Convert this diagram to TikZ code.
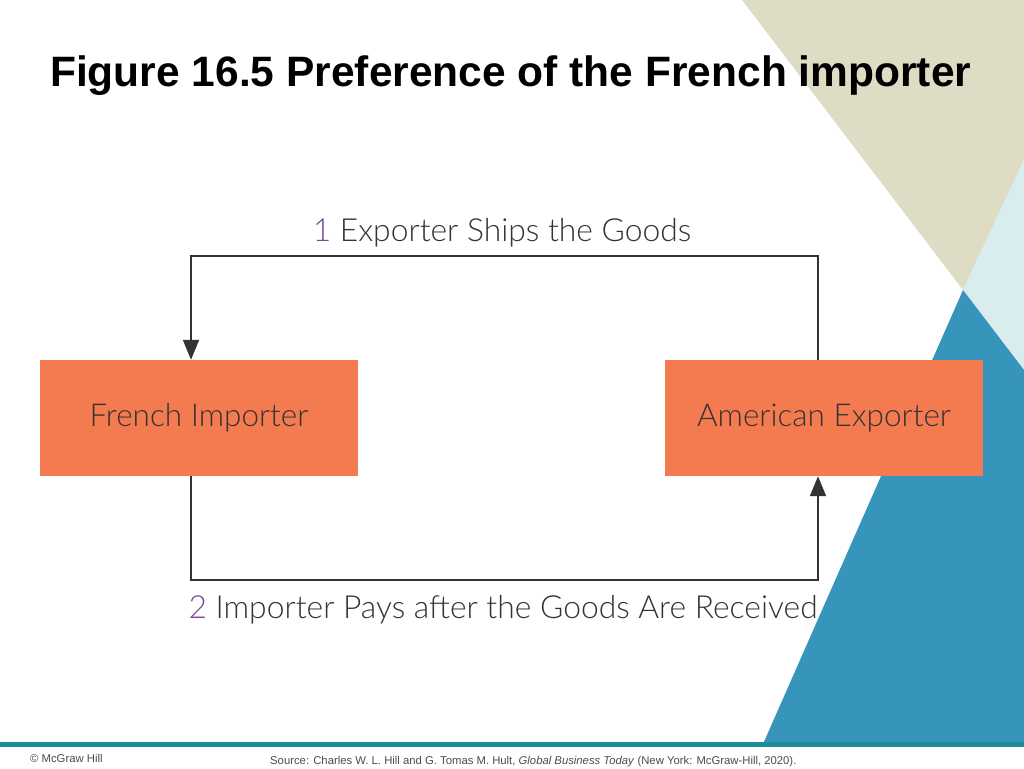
\documentclass[tikz,border=0pt]{standalone}
\usepackage{fontspec}
\setmainfont{Liberation Sans}
\newfontfamily\lblfont{Lato Light}
\usetikzlibrary{arrows.meta}
\definecolor{beige}{HTML}{DFDCC6}
\definecolor{lightblue}{HTML}{D9EDEF}
\definecolor{darkblue}{HTML}{3794BB}
\definecolor{teal}{HTML}{1A8C9A}
\definecolor{boxorange}{HTML}{F47B50}
\definecolor{numpurple}{HTML}{7B4A9A}
\definecolor{txtgray}{HTML}{333333}
\begin{document}
\begin{tikzpicture}[x=1pt,y=-1pt,
  party/.style={fill=boxorange, minimum width=318pt, minimum height=116pt, inner sep=0pt,
    font=\lblfont\fontsize{31.5}{34}\selectfont, text=txtgray},
  flow/.style={draw=txtgray, line width=1.8pt, -{Triangle[length=20pt,width=16pt]}},
  steplabel/.style={font=\lblfont\fontsize{31.8}{34}\selectfont, text=txtgray, inner sep=0pt},
  foot/.style={font=\fontsize{11.3}{13}\selectfont, text=black!70, inner sep=0pt, anchor=base west}]
\useasboundingbox (0,0) rectangle (1024,768);
\fill[white] (0,0) rectangle (1024,768);
% decorative triangles
\fill[beige] (742,0) -- (1024,0) -- (1024,160) -- (963,290) -- cycle;
\fill[lightblue] (963,290) -- (1024,160) -- (1024,370) -- cycle;
\fill[darkblue] (963,290) -- (1024,370) -- (1024,744) -- (763,744) -- cycle;
\fill[teal] (0,742) rectangle (1024,747);
% title
\node[anchor=base west, inner sep=0pt, font=\bfseries\fontsize{42.5}{46}\selectfont] (title) at (50,86) {Figure 16.5 Preference of the French importer};
% boxes
\node[party] (fi) at (199,418) {French Importer};
\node[party] (ae) at (824,418) {American Exporter};
% connectors
\coordinate (tl) at (191,256);
\coordinate (tr) at (818,256);
\coordinate (bl) at (191,580);
\coordinate (br) at (818,580);
\draw[flow] (ae.north -| tr) -- (tr) -- (tl) -- (fi.north -| tl);
\draw[flow] (fi.south -| bl) -- (bl) -- (br) -- (ae.south -| br);
% labels
\node[steplabel, anchor=base] (l1) at (502,241) {\textcolor{numpurple}{1} Exporter Ships the Goods};
\node[steplabel, anchor=base] (l2) at (503,618) {\textcolor{numpurple}{2} Importer Pays after the Goods Are Received};
% footer
\node[foot] (copy) at (30,762) {© McGraw Hill};
\node[foot] (src) at (270,764) {Source: Charles W. L. Hill and G. Tomas M. Hult, \textit{Global Business Today} (New York: McGraw-Hill, 2020).};
\end{tikzpicture}
\end{document}
